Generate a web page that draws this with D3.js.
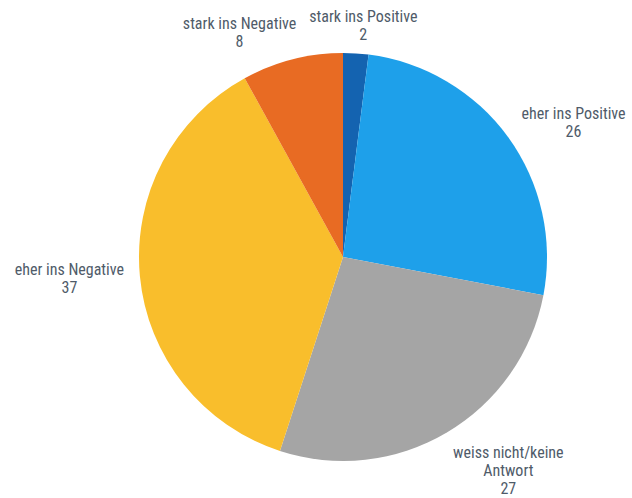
<!DOCTYPE html>
<html>
<head>
<meta charset="utf-8">
<script src="https://cdn.jsdelivr.net/npm/d3@7"></script>
<style>
  html, body { margin: 0; padding: 0; background: #ffffff; }
  svg { display: block; }
  .lbl { font-family: "Liberation Sans Narrow", "Roboto Condensed", Roboto, sans-serif; font-size: 16px; fill: #4f5b69; }
</style>
</head>
<body>
<svg id="chart" width="632" height="498"></svg>
<script>
// Survey answers, clockwise from twelve o'clock
const categories = ["stark ins Positive", "eher ins Positive", "weiss nicht/keine Antwort", "eher ins Negative", "stark ins Negative"];
const labelLines = [["stark ins Positive"], ["eher ins Positive"], ["weiss nicht/keine", "Antwort"], ["eher ins Negative"], ["stark ins Negative"]];
const values = [2, 26, 27, 37, 8];
const colors = ["#1463b0", "#1ea0ea", "#a5a5a5", "#f9be2c", "#e86b23"];

const width = 632, height = 498;
const cx = 343, cy = 257, radius = 204;

const svg = d3.select("#chart");
const g = svg.append("g").attr("transform", `translate(${cx},${cy})`);

const pie = d3.pie().sort(null).value(d => d.value);
const arcs = pie(categories.map((c, i) => ({ name: c, value: values[i], lines: labelLines[i], color: colors[i] })));
const arc = d3.arc().innerRadius(0).outerRadius(radius);

g.selectAll("path.slice")
  .data(arcs)
  .join("path")
  .attr("class", "slice")
  .attr("d", arc)
  .attr("fill", d => d.data.color);

// Labels sit outside the slice at its mid angle; block alignment depends on side
const labelR = radius + 24;
const lineH = 18;
arcs.forEach(d => {
  const a = (d.startAngle + d.endAngle) / 2;
  const sx = Math.sin(a), cyy = -Math.cos(a);
  const px = labelR * sx, py = labelR * cyy;
  const lines = d.data.lines.concat([String(d.data.value)]);

  const grp = g.append("g");
  const t = grp.append("text").attr("class", "lbl").attr("text-anchor", "middle");
  lines.forEach((l, i) => {
    t.append("tspan").attr("x", 0).attr("y", i * lineH).text(l);
  });
  const bb = t.node().getBBox();
  let dx, dy;
  if (sx > 0.3) dx = px - bb.x - 6;                     // block starts at anchor
  else if (sx < -0.3) dx = px - (bb.x + bb.width) + 8;  // block ends at anchor
  else if (sx < -0.1) dx = px - (bb.x + bb.width) + 10;
  else dx = px - (bb.x + bb.width / 2) + 6;
  if (cyy < -0.8) dy = py - (bb.y + bb.height) + 15;    // above the pie
  else if (cyy > 0.8) dy = py - bb.y - 10;
  else dy = py - (bb.y + bb.height / 2);
  grp.attr("transform", `translate(${dx},${dy})`);
});
</script>
</body>
</html>
